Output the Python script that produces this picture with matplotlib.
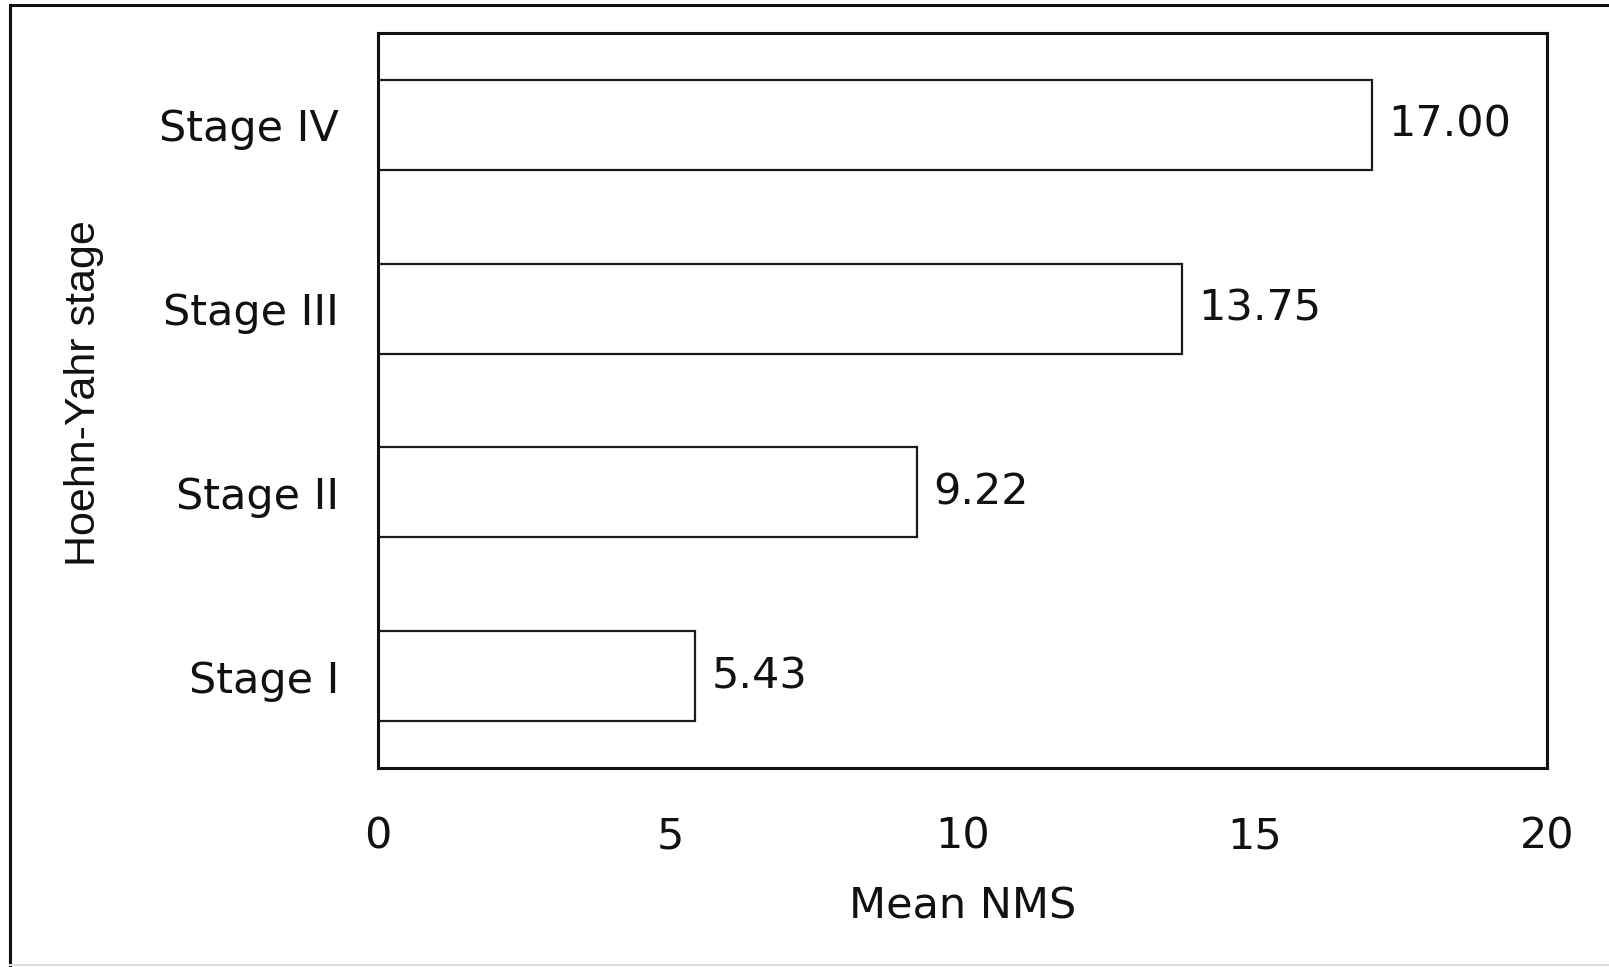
import matplotlib.pyplot as plt
from matplotlib.lines import Line2D

# data
stages = ['Stage I', 'Stage II', 'Stage III', 'Stage IV']
mean_nms = [5.43, 9.22, 13.75, 17.00]
value_labels = ['5.43', '9.22', '13.75', '17.00']
x_ticks = [0, 5, 10, 15, 20]

# the original text is drawn wide, so DejaVu Sans fits it better horizontally
plt.rcParams['font.family'] = ['DejaVu Sans']

fig = plt.figure(figsize=(16.09, 9.67), dpi=100)
ax = fig.add_axes([0.2349, 0.2058, 0.7266, 0.7601])

ypos = list(range(len(stages)))
ax.barh(ypos, mean_nms, height=0.49, color='white', edgecolor='#1a1a1a',
        linewidth=1.6)
for y, v, lab in zip(ypos, mean_nms, value_labels):
    ax.annotate(lab, (v, y), xytext=(12, 0), textcoords='offset points',
                ha='left', va='center', fontsize=31, color='#111111')

ax.set_xlim(0, 20)
ax.set_ylim(-0.5, 3.5)
ax.set_xticks(x_ticks)
ax.set_yticks(ypos)
ax.set_yticklabels(stages)
ax.tick_params(axis='both', length=0, labelsize=31, colors='#111111')
ax.tick_params(axis='y', pad=28)
ax.tick_params(axis='x', pad=34)
for sp in ax.spines.values():
    sp.set_linewidth(2.2)
    sp.set_color('#111111')

ax.set_xlabel('Mean NMS', fontsize=31, color='#111111')
ax.xaxis.set_label_coords(0.5, -0.188)
ax.xaxis.label.set_va('center')
ax.set_ylabel('Hoehn-Yahr stage', fontsize=31, color='#111111',
              family=['Liberation Sans'])
ax.yaxis.set_label_coords(-0.2515, 0.51)
ax.yaxis.label.set_va('center')

# outer frame of the original figure
W, H = 1609.0, 967.0
fig.add_artist(Line2D([10 / W, 10 / W], [0, 1 - 5 / H], color='#111111',
                      linewidth=2.2, transform=fig.transFigure))
fig.add_artist(Line2D([10 / W, 1], [1 - 5 / H, 1 - 5 / H], color='#111111',
                      linewidth=2.2, transform=fig.transFigure))
fig.add_artist(Line2D([10 / W, 1], [2 / H, 2 / H], color='#dddddd',
                      linewidth=1.5, transform=fig.transFigure))

fig.savefig('out.png', dpi=100, facecolor='white')
